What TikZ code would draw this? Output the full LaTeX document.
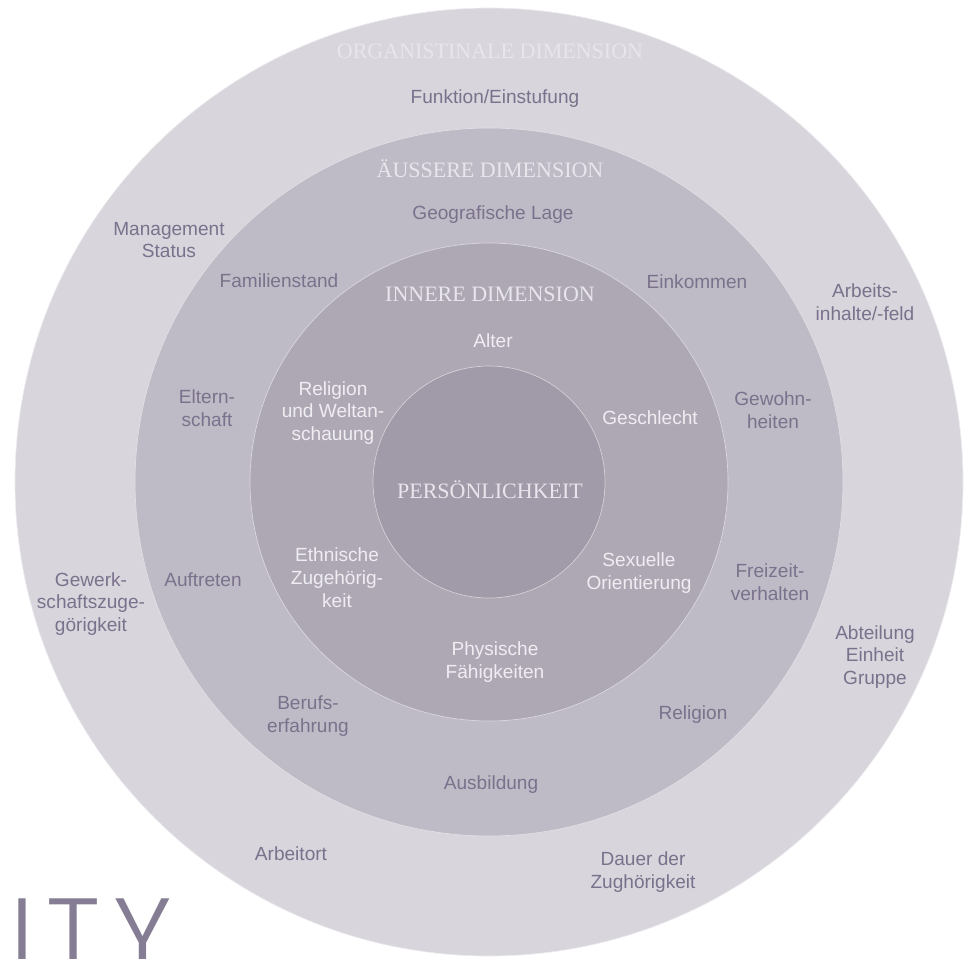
\documentclass[tikz,border=0pt]{standalone}
\usepackage{fontspec}
\setmainfont{Liberation Sans}
\newfontfamily\headserif{Liberation Serif}
\newfontfamily\thinsans{Poppins Light}[LetterSpace=12]
\usetikzlibrary{positioning}

\definecolor{ringorg}{HTML}{D8D5DC}
\definecolor{ringext}{HTML}{BFBBC6}
\definecolor{ringint}{HTML}{AEA8B5}
\definecolor{ringcore}{HTML}{A19AA8}
\definecolor{labdark}{HTML}{7A728C}
\definecolor{lablight}{HTML}{EFEDF2}
\definecolor{headlight}{HTML}{E8E6EC}
\definecolor{titlegray}{HTML}{857D93}

\begin{document}
\begin{tikzpicture}[x=0.75pt, y=-0.75pt]
    \tikzset{
        ring/.style = {circle, draw=white!55!#1, line width=0.5pt, fill=#1, inner sep=0pt},
        dimhead/.style = {font=\headserif\fontsize{16.5}{19}\selectfont, text=headlight},
        lab/.style = {font=\fontsize{14.3}{17.2}\selectfont, text=labdark, align=center, inner sep=0pt},
        inlab/.style = {lab, text=lablight},
        bigword/.style = {font=\thinsans\fontsize{78}{78}\selectfont, text=titlegray, inner sep=0pt, anchor=north west}
    }
    \useasboundingbox (0,0) rectangle (970,958);
    \clip (0,0) rectangle (970,958);

    \node[ring=ringorg, minimum size=711pt] (org) at (489,482) {};
    \node[ring=ringext, minimum size=531pt] (ext) at (org.center) {};
    \node[ring=ringint, minimum size=358.5pt] (int) at (org.center) {};
    \node[ring=ringcore, minimum size=174pt] (core) at (org.center) {};

    \node[dimhead] (orghead) at (490,51) {ORGANISTINALE DIMENSION};
    \node[dimhead] (exthead) at (490,169) {ÄUSSERE DIMENSION};
    \node[dimhead] (inthead) at (490,294) {INNERE DIMENSION};
    \node[dimhead] (corehead) at (490,490) {PERSÖNLICHKEIT};

    \node[lab] (funktion) at (495,99) {Funktion/Einstufung};
    \node[lab] (management) at (169,240) {Management\\Status};
    \node[lab] (arbeitsinhalte) at (865,302) {Arbeits-\\inhalte/-feld};
    \node[lab] (gewerkschaft) at (91,604) {Gewerk-\\schaftszuge-\\görigkeit};
    \node[lab] (abteilung) at (875,657) {Abteilung\\Einheit\\Gruppe};
    \node[lab] (arbeitort) at (291,854) {Arbeitort};
    \node[lab] (dauer) at (643,872) {Dauer der\\Zughörigkeit};

    \node[lab] (geolage) at (493,215) {Geografische Lage};
    \node[lab] (familienstand) at (279,281) {Familienstand};
    \node[lab] (einkommen) at (697,282) {Einkommen};
    \node[lab] (elternschaft) at (207,408) {Eltern-\\schaft};
    \node[lab] (gewohnheiten) at (773,410) {Gewohn-\\heiten};
    \node[lab] (auftreten) at (203,580) {Auftreten};
    \node[lab] (freizeit) at (770,582) {Freizeit-\\verhalten};
    \node[lab] (berufserfahrung) at (308,716) {Berufs-\\erfahrung};
    \node[lab] (religion) at (693,715) {Religion};
    \node[lab] (ausbildung) at (491,785) {Ausbildung};

    \node[inlab] (alter) at (493,341) {Alter};
    \node[inlab] (weltanschauung) at (333,413) {Religion\\und Weltan-\\schauung};
    \node[inlab] (geschlecht) at (650,418) {Geschlecht};
    \node[inlab] (ethnisch) at (337,578) {Ethnische\\Zugehörig-\\keit};
    \node[inlab] (sexuell) at (639,573) {Sexuelle\\Orientierung};
    \node[inlab] (physisch) at (495,662) {Physische\\Fähigkeiten};

    \node[bigword] (ity) at (10,899) {ITY};
\end{tikzpicture}
\end{document}
